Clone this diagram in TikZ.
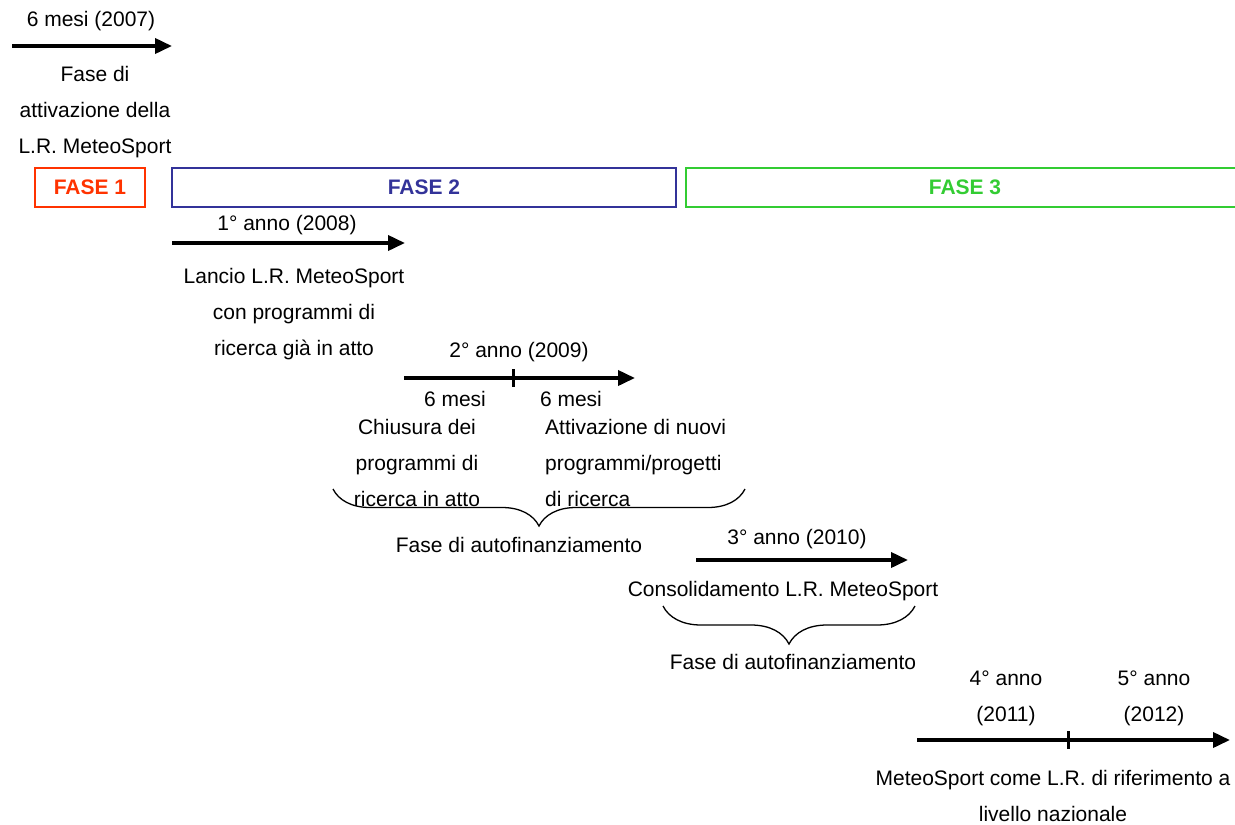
\documentclass[tikz,border=0pt]{standalone}
\usepackage{fontspec}
\setmainfont{Liberation Sans}
\usetikzlibrary{arrows.meta}
\usetikzlibrary{decorations.pathreplacing}
\definecolor{faseone}{HTML}{FF3300}
\definecolor{fasetwo}{HTML}{333399}
\definecolor{fasethree}{HTML}{33CC33}
\tikzset{
  lbl/.style={inner sep=0pt, font=\fontsize{21}{36}\selectfont, align=center},
  timeline/.style={line width=3.7pt, -{Triangle[length=17pt,width=15pt]}},
  halfmark/.style={line width=3pt},
  fasebox/.style={draw=#1, line width=1.8pt, minimum height=39pt, inner sep=0pt,
    text=#1, font=\fontsize{21}{25}\selectfont\bfseries},
  curly/.style={decorate, decoration={brace,mirror,amplitude=#1}, line width=1.3pt},
}

\begin{document}
\begin{tikzpicture}[x=1pt,y=-1pt]
        \useasboundingbox (0,0) rectangle (1235,825);
        % fasi
        \node[fasebox=faseone, minimum width=110pt] (fase1) at (90,187.5) {FASE 1};
        \node[fasebox=fasetwo, minimum width=504pt] (fase2) at (424,187.5) {FASE 2};
        \node[fasebox=fasethree, minimum width=558pt] (fase3) at (965,187.5) {FASE 3};

        % 2007
        \coordinate (t1s) at (12,46);
        \coordinate (t1e) at (172,46);
        \draw[timeline] (t1s) -- (t1e);
        \node[lbl] (y2007) at (91,21) {6 mesi (2007)};
        \node[lbl] (attiv) at (95,112) {Fase di\\attivazione della\\L.R. MeteoSport};

        % 2008
        \coordinate (t2s) at (172,243);
        \coordinate (t2e) at (405,243);
        \draw[timeline] (t2s) -- (t2e);
        \node[lbl] (y2008) at (287,225) {1° anno (2008)};
        \node[lbl] (lancio) at (294,314) {Lancio L.R. MeteoSport\\con programmi di\\ricerca già in atto};

        % 2009
        \coordinate (t3s) at (404,378);
        \coordinate (t3e) at (635,378);
        \coordinate (t3mt) at (513,369);
        \coordinate (t3mb) at (513,387);
        \draw[timeline] (t3s) -- (t3e);
        \draw[halfmark] (t3mt) -- (t3mb);
        \node[lbl] (y2009) at (519,352) {2° anno (2009)};
        \node[lbl] (mesiA) at (455,399) {6 mesi};
        \node[lbl] (mesiB) at (571,399) {6 mesi};
        \node[lbl] (chius) at (417,463) {Chiusura dei\\programmi di\\ricerca in atto};
        \node[lbl, align=left, anchor=west] (nuovi) at (545,463) {Attivazione di nuovi\\programmi/progetti\\di ricerca};
        \coordinate (b1l) at (333,489);
        \coordinate (b1r) at (745,489);
        \draw[curly=37pt] (b1l) -- (b1r);
        \node[lbl] (auto1) at (519,545) {Fase di autofinanziamento};

        % 2010
        \coordinate (t4s) at (696,560);
        \coordinate (t4e) at (908,560);
        \draw[timeline] (t4s) -- (t4e);
        \node[lbl] (y2010) at (797,539) {3° anno (2010)};
        \node[lbl] (consol) at (783,591) {Consolidamento L.R. MeteoSport};
        \coordinate (b2l) at (663,606);
        \coordinate (b2r) at (915,606);
        \draw[curly=38pt] (b2l) -- (b2r);
        \node[lbl] (auto2) at (793,662) {Fase di autofinanziamento};

        % 2011-2012
        \coordinate (t5s) at (917,740);
        \coordinate (t5e) at (1230,740);
        \coordinate (t5mt) at (1068,731);
        \coordinate (t5mb) at (1068,749);
        \draw[timeline] (t5s) -- (t5e);
        \draw[halfmark] (t5mt) -- (t5mb);
        \node[lbl] (y2011) at (1006,698) {4° anno\\(2011)};
        \node[lbl] (y2012) at (1154,698) {5° anno\\(2012)};
        \node[lbl] (nazion) at (1053,796) {MeteoSport come L.R. di riferimento a\\livello nazionale};
\end{tikzpicture}
\end{document}
